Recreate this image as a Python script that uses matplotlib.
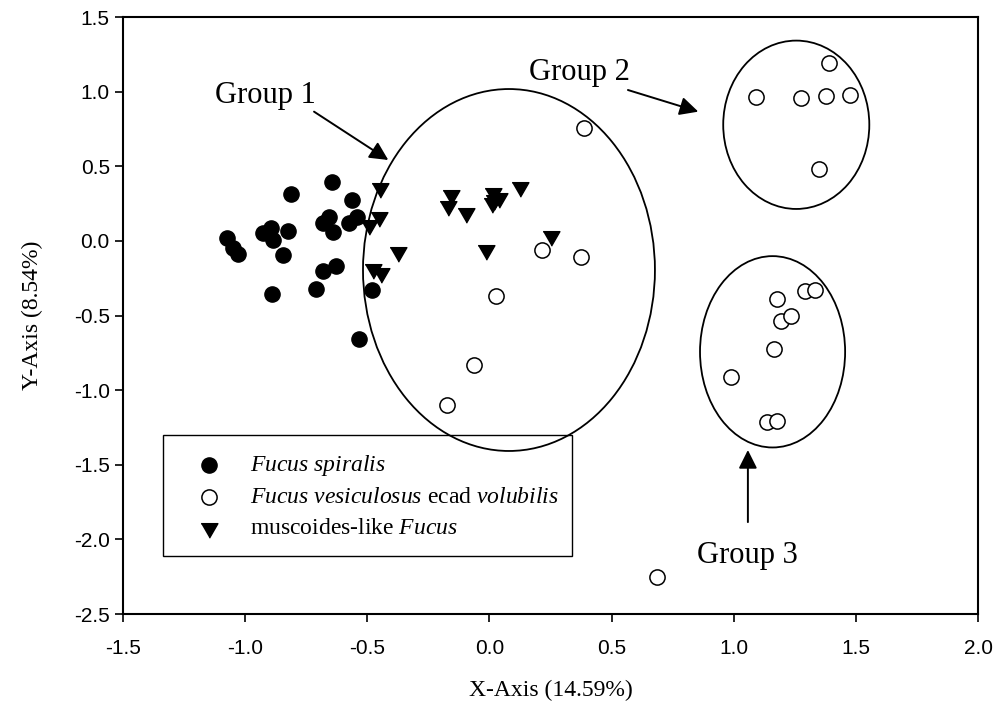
import matplotlib
matplotlib.use('Agg')
import matplotlib.pyplot as plt
from matplotlib.patches import Ellipse

plt.rcParams['font.family'] = 'Liberation Serif'
plt.rcParams['mathtext.fontset'] = 'custom'
plt.rcParams['mathtext.rm'] = 'Liberation Serif'
plt.rcParams['mathtext.it'] = 'Liberation Serif:italic'

# Fucus spiralis (filled circles)
spiralis_x = [-0.643, -0.812, -0.561, -0.656, -0.680, -0.642, -0.543, -0.574,
              -0.896, -0.926, -0.885, -0.823, -1.076, -1.048, -1.028, -0.846,
              -0.629, -0.683, -0.710, -0.889, -0.479, -0.534]
spiralis_y = [0.396, 0.312, 0.274, 0.158, 0.118, 0.061, 0.162, 0.118,
              0.084, 0.050, 0.006, 0.068, 0.017, -0.050, -0.090, -0.095,
              -0.166, -0.200, -0.323, -0.356, -0.329, -0.660]

# Fucus vesiculosus ecad volubilis (open circles)
vesic_x = [0.387, 0.215, 0.373, 0.027, -0.063, -0.175, 0.686,
           1.390, 1.091, 1.275, 1.376, 1.476, 1.350,
           1.176, 1.292, 1.333, 1.192, 1.233, 1.166, 0.987, 1.137, 1.178]
vesic_y = [0.756, -0.061, -0.106, -0.369, -0.832, -1.100, -2.252,
           1.194, 0.966, 0.959, 0.971, 0.977, 0.482,
           -0.389, -0.336, -0.329, -0.535, -0.503, -0.727, -0.910, -1.216, -1.205]

# muscoides-like Fucus (down triangles)
musc_x = [-0.448, -0.451, -0.492, -0.373, -0.475, -0.445, -0.159, -0.168,
          -0.094, 0.013, 0.019, 0.040, 0.009, 0.125, -0.014, 0.254]
musc_y = [0.352, 0.162, 0.106, -0.072, -0.190, -0.217, 0.307, 0.234,
          0.189, 0.319, 0.274, 0.285, 0.252, 0.359, -0.061, 0.033]

# group ellipses: centre x, centre y, width, height
groups = [(0.080, -0.195, 1.195, 2.425),
          (1.256, 0.778, 0.598, 1.128),
          (1.159, -0.743, 0.594, 1.282)]

# annotations: text, text pos, arrow tail, arrow tip
notes = [('Group 1', (-0.915, 0.971), (-0.718, 0.866), (-0.414, 0.542)),
         ('Group 2', (0.367, 1.131), (0.567, 1.011), (0.855, 0.866)),
         ('Group 3', (1.058, -2.105), (1.058, -1.884), (1.058, -1.401))]

x_ticks = [-1.5, -1.0, -0.5, 0.0, 0.5, 1.0, 1.5, 2.0]
y_ticks = [-2.5, -2.0, -1.5, -1.0, -0.5, 0.0, 0.5, 1.0, 1.5]

fig = plt.figure(figsize=(9.99, 7.18), dpi=100)
ax = fig.add_axes([0.1231, 0.1448, 0.8559, 0.8315])

tri = [(-1.0, 0.577), (1.0, 0.577), (0.0, -1.155)]

ax.scatter(spiralis_x, spiralis_y, s=120, marker='o', color='black',
           label=r'$\it{Fucus\ spiralis}$', zorder=3)
ax.scatter(vesic_x, vesic_y, s=120, marker='o', facecolor='white',
           edgecolor='black', linewidth=1.1,
           label=r'$\it{Fucus\ vesiculosus}$ ecad $\it{volubilis}$', zorder=3)
ax.scatter(musc_x, musc_y, s=195, marker=tri, color='black',
           label=r'muscoides-like $\it{Fucus}$', zorder=3)

for cx, cy, w, h in groups:
    ax.add_patch(Ellipse((cx, cy), w, h, fill=False, edgecolor='black',
                         linewidth=1.3, zorder=2))

for text, pos, tail, tip in notes:
    ax.text(pos[0], pos[1], text, fontsize=22, ha='center', va='center')
    ax.annotate('', xy=tip, xytext=tail,
                arrowprops=dict(arrowstyle='-|>', color='black', lw=1.4,
                                mutation_scale=28, shrinkA=0, shrinkB=0))

ax.set_xlim(-1.5, 2.0)
ax.set_ylim(-2.5, 1.5)
ax.set_xticks(x_ticks)
ax.set_yticks(y_ticks)
ax.set_xticklabels(['{:.1f}'.format(v) for v in x_ticks],
                   family='Liberation Sans', fontsize=15)
ax.set_yticklabels(['{:.1f}'.format(v) for v in y_ticks],
                   family='Liberation Sans', fontsize=15)
ax.tick_params(direction='out', length=6, width=1.2, top=False, right=False)
ax.tick_params(axis='x', pad=12)
for sp in ax.spines.values():
    sp.set_linewidth(1.5)

ax.set_xlabel('X-Axis (14.59%)', fontsize=17, labelpad=16)
ax.set_ylabel('Y-Axis (8.54%)', fontsize=17, labelpad=22)

leg = ax.legend(loc='upper left', bbox_to_anchor=(0.0464, 0.096, 0.479, 0.2038),
                mode='expand', borderaxespad=0, fontsize=17, borderpad=0.75,
                handlelength=2.4, handletextpad=0.55, labelspacing=0.38,
                fancybox=False, framealpha=1, edgecolor='black')
leg.get_frame().set_linewidth(1.0)
leg.set_zorder(1.5)

fig.savefig('out.png', dpi=100)
